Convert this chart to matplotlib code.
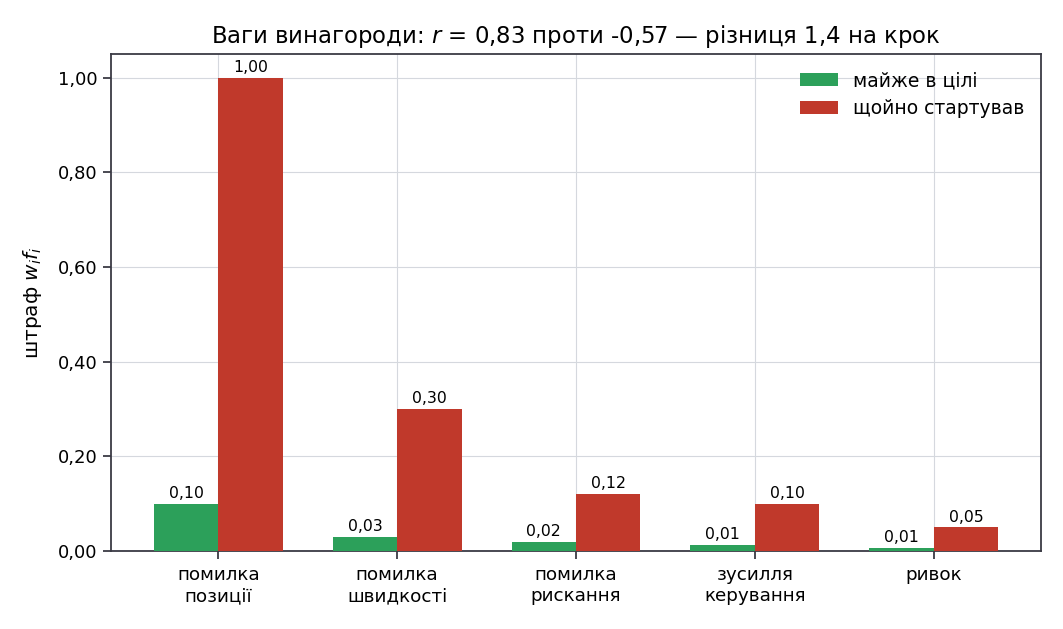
import matplotlib
matplotlib.use("Agg")
import matplotlib.pyplot as plt
import numpy as np

categories = ["помилка\nпозиції", "помилка\nшвидкості", "помилка\nрискання",
              "зусилля\nкерування", "ривок"]
near_goal = [0.10, 0.03, 0.02, 0.013, 0.006]
just_started = [1.00, 0.30, 0.12, 0.10, 0.05]
series_labels = ["майже в цілі", "щойно стартував"]
y_ticks = [0.0, 0.2, 0.4, 0.6, 0.8, 1.0]

green = "#2ca05a"
red = "#c0392b"


def fmt(v):
    return f"{v:.2f}".replace(".", ",")


fig, ax = plt.subplots(figsize=(10.63, 6.29), dpi=100)
fig.subplots_adjust(left=0.1044, right=0.9793, top=0.914, bottom=0.124)

x = np.arange(len(categories))
w = 0.36
b1 = ax.bar(x - w / 2, near_goal, w, color=green, label=series_labels[0], zorder=3)
b2 = ax.bar(x + w / 2, just_started, w, color=red, label=series_labels[1], zorder=3)

for bars, vals in ((b1, near_goal), (b2, just_started)):
    for rect, v in zip(bars, vals):
        ax.annotate(fmt(v), (rect.get_x() + rect.get_width() / 2, rect.get_height()),
                    xytext=(0, 2), textcoords="offset points",
                    ha="center", va="bottom", fontsize=11.3)

ax.set_xlim(-0.6, len(categories) - 0.4)
ax.set_ylim(0, 1.05)
ax.set_xticks(x)
ax.set_xticklabels(categories, fontsize=13.2)
ax.set_yticks(y_ticks)
ax.set_yticklabels([fmt(t) for t in y_ticks], fontsize=13)
ax.grid(True, color="#d5d8de", linewidth=0.8, zorder=0)
for s in ax.spines.values():
    s.set_color("#3a3a44")
    s.set_linewidth(1.3)
ax.tick_params(length=6, width=1.3, color="#3a3a44")
ax.tick_params(axis="x", pad=5)

ax.set_ylabel("штраф $w_i f_i$", fontsize=14.5, labelpad=10)
ax.set_title("Ваги винагороди: $r$ = 0,83 проти -0,57 — різниця 1,4 на крок",
             fontsize=16.4, pad=8)
ax.legend(frameon=False, fontsize=13.5, loc="upper right")

fig.savefig("out.png", dpi=100)
